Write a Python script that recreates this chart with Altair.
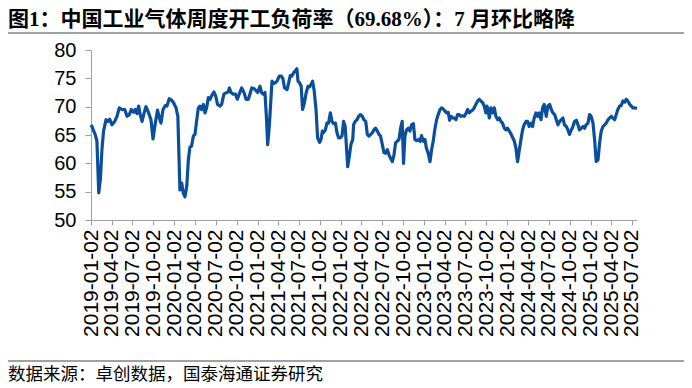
import altair as alt
import pandas as pd

title_text = "图1：中国工业气体周度开工负荷率（69.68%）：7 月环比略降"
source_text = "数据来源：卓创数据，国泰海通证券研究"

start_date = "2019-01-02"
# days after start_date
day_offsets = [
    1, 7, 19, 26, 34, 41, 48, 55, 66, 74, 82, 92, 104, 114, 124, 136, 148, 158, 168, 177,
    187, 194, 202, 209, 216, 224, 231, 241, 253, 263, 272, 282, 292, 300, 307, 316, 326, 333, 343, 352,
    362, 373, 381,
    390, 398, 405, 412, 420, 427, 434, 441, 449, 456, 463, 471, 478, 485, 493, 500, 507, 515, 522, 529,
    539, 547, 555, 566, 573, 583, 595, 602, 607, 614, 624, 634, 642, 650, 661, 671, 680, 690, 697, 705,
    715, 724, 731, 741, 748, 756, 763, 770, 775, 782,
    794, 801, 808, 816, 826, 835, 842, 849, 860, 867, 874, 881, 889, 896, 903, 908, 915, 922, 928, 936,
    944, 952, 959, 965, 972, 979, 987, 994, 1003, 1009, 1015, 1020, 1028, 1035, 1042, 1050, 1057, 1064,
    1072, 1079, 1086, 1093, 1101, 1108, 1115, 1126, 1133, 1140, 1148, 1152, 1159, 1167, 1174, 1181,
    1190, 1197, 1205, 1212, 1219, 1227, 1234, 1241, 1248, 1256, 1263, 1270, 1278, 1285, 1292, 1300,
    1307, 1314, 1322, 1329, 1336, 1343, 1351, 1358, 1365, 1371, 1377, 1384, 1392, 1399, 1406, 1414,
    1421, 1428, 1436, 1443, 1450, 1457, 1465, 1471, 1479, 1487, 1494, 1501, 1509, 1516, 1523, 1531,
    1538, 1545, 1553, 1560, 1567, 1573, 1580, 1588,
    1593, 1601, 1608, 1615, 1623, 1630, 1637, 1645, 1652, 1659, 1667, 1674, 1681, 1688, 1696, 1703,
    1710, 1718, 1725, 1732, 1737, 1743, 1747, 1754, 1762, 1769, 1776, 1784, 1791, 1798, 1805, 1813,
    1820, 1827, 1835, 1842, 1849, 1857, 1864, 1871, 1879, 1886, 1893, 1900, 1908, 1915, 1922, 1930,
    1937, 1944, 1952, 1959, 1966, 1974, 1981, 1988,
    1997, 2004, 2012, 2019, 2026, 2034, 2041, 2048, 2056, 2063, 2070, 2077, 2085, 2092, 2099, 2107,
    2114, 2121, 2129, 2136, 2143, 2151, 2158, 2165, 2172, 2180, 2187, 2194, 2202, 2209, 2216, 2224,
    2231, 2238, 2246, 2253, 2260, 2268, 2275, 2282, 2289, 2297, 2304, 2311, 2319, 2326, 2333, 2341,
    2348, 2355, 2363, 2370, 2377, 2384, 2395,
]
rates = [
    66.8, 66.2, 65.0, 63.9, 54.8, 57.1, 62.4, 65.7, 67.7, 67.4, 67.8, 66.8, 67.4, 68.3, 69.8, 69.5, 69.5, 68.3, 68.6, 69.5,
    69.0, 69.5, 68.8, 70.1, 68.6, 67.4, 68.6, 70.0, 68.9, 67.7, 64.3, 67.1, 69.4, 68.0, 67.1, 69.5, 70.2, 70.1, 71.4, 71.2,
    70.7, 69.8, 68.3,
    55.3, 56.5, 54.7, 54.1, 55.9, 60.6, 62.9, 63.0, 64.8, 65.1, 67.4, 69.8, 70.1, 69.5, 70.4, 68.9, 69.8, 71.6, 71.3, 71.9,
    72.6, 71.9, 70.4, 70.1, 70.4, 72.2, 72.5, 72.6, 73.3, 72.5, 72.2, 72.2, 71.3, 72.2, 73.3, 72.5, 71.3, 71.3, 72.2, 73.3,
    73.2, 72.8, 72.5, 73.6, 72.5, 72.2, 72.5, 67.7, 63.3, 66.5,
    74.5, 74.1, 74.2, 74.5, 75.4, 75.4, 74.9, 73.3, 73.0, 74.2, 75.5, 75.4, 76.0, 76.3, 76.7, 74.5, 74.2, 73.6, 69.5, 70.7,
    72.5, 73.6, 73.5, 73.9, 74.5, 72.8, 69.5, 64.5, 63.7, 64.2, 65.7, 65.4, 65.9, 67.1, 67.1, 68.9, 67.4, 67.0,
    67.1, 65.4, 64.5, 64.5, 64.8, 67.4, 66.5, 59.4, 61.2, 63.3, 64.2, 66.8, 67.4, 67.7, 68.3, 68.6,
    68.3, 67.7, 67.4, 65.1, 64.8, 65.1, 65.4, 65.9, 66.2, 65.7, 65.1, 64.8, 63.3, 61.9, 61.8, 62.4,
    61.5, 60.9, 60.3, 61.5, 63.6, 63.9, 64.2, 66.2, 67.4, 60.0, 64.8, 65.9, 66.2, 65.7, 66.8, 67.0,
    64.2, 64.0, 64.2, 63.9, 64.9, 63.9, 64.2, 62.7, 61.8, 60.3, 62.4, 63.9, 66.2, 67.7, 68.6, 69.5,
    69.8, 69.6, 69.2, 68.9, 69.0, 67.6, 68.3, 68.0,
    68.0, 67.7, 68.6, 68.6, 68.3, 68.4, 68.3, 68.8, 69.5, 68.9, 69.2, 69.4, 69.8, 70.4, 71.0, 71.3,
    71.0, 70.7, 70.1, 68.9, 70.1, 69.2, 68.0, 69.8, 68.9, 69.8, 68.3, 67.7, 68.0, 67.4, 67.1, 66.2,
    65.9, 66.2, 65.7, 65.2, 64.6, 63.9, 62.7, 60.3, 62.4, 64.2, 65.9, 66.8, 67.4, 67.4, 66.5, 67.1,
    66.5, 68.0, 68.9, 68.3, 68.9, 67.7, 69.8, 70.4,
    68.3, 70.1, 70.4, 69.5, 68.9, 68.6, 67.7, 66.8, 67.4, 67.7, 68.0, 66.8, 66.5, 65.9, 65.1, 65.9,
    66.5, 67.4, 67.6, 66.8, 65.9, 66.2, 66.5, 66.2, 66.8, 67.1, 68.6, 68.3, 67.1, 64.2, 60.3, 60.6,
    63.6, 65.7, 66.5, 66.8, 67.1, 67.7, 68.0, 68.3, 68.0, 67.7, 68.6, 69.5, 70.1, 70.2, 71.0, 70.8,
    71.3, 71.0, 70.4, 70.1, 69.8, 69.8, 69.68,
]

tick_dates = [
    "2019-01-02", "2019-04-02", "2019-07-02", "2019-10-02",
    "2020-01-02", "2020-04-02", "2020-07-02", "2020-10-02",
    "2021-01-02", "2021-04-02", "2021-07-02", "2021-10-02",
    "2022-01-02", "2022-04-02", "2022-07-02", "2022-10-02",
    "2023-01-02", "2023-04-02", "2023-07-02", "2023-10-02",
    "2024-01-02", "2024-04-02", "2024-07-02", "2024-10-02",
    "2025-01-02", "2025-04-02", "2025-07-02",
]
x_domain = ["2019-01-02", "2025-07-24"]
y_ticks = [50, 55, 60, 65, 70, 75, 80]

dates = (pd.Timestamp(start_date) + pd.to_timedelta(day_offsets, unit="D")).strftime("%Y-%m-%d")
df = pd.DataFrame({"date": dates, "rate": rates})


def dt(s):
    y, m, d = (int(p) for p in s.split("-"))
    return alt.DateTime(year=y, month=m, date=d, utc=True)


LINE_COLOR = "#0b4f9c"
AXIS_GREY = "#a0a0a0"

line = alt.Chart(df).mark_line(color=LINE_COLOR, strokeWidth=3.2, strokeJoin="round").encode(
    x=alt.X(
        "date:T",
        scale=alt.Scale(type="utc", domain=[dt(s) for s in x_domain]),
        axis=alt.Axis(
            values=[dt(s) for s in tick_dates],
            labelExpr="utcFormat(datum.value, '%Y-%m-%d')",
            labelAngle=270,
            labelAlign="right",
            labelBaseline="middle",
            title=None,
            grid=False,
            tickSize=5,
            labelPadding=4,
            labelFontSize=21,
            labelOverlap=False,
        ),
    ),
    y=alt.Y(
        "rate:Q",
        scale=alt.Scale(domain=[50, 80], nice=False, zero=False),
        axis=alt.Axis(values=y_ticks, title=None, grid=False, tickSize=6, labelPadding=9, labelFontSize=20),
    ),
)

title_layer = alt.Chart(pd.DataFrame({"t": [title_text]})).mark_text(
    align="left", baseline="alphabetic", font="Liberation Serif, Noto Sans CJK SC",
    fontSize=21, fontWeight="bold", color="black",
).encode(x=alt.value(-83), y=alt.value(-24), text="t:N")

source_layer = alt.Chart(pd.DataFrame({"t": [source_text]})).mark_text(
    align="left", baseline="alphabetic", font="Liberation Serif, Noto Sans CJK SC",
    fontSize=17.5, color="black",
).encode(x=alt.value(-83), y=alt.value(330), text="t:N")

top_rule = alt.Chart(pd.DataFrame({"a": [0]})).mark_rule(color="#444444", strokeWidth=1.2).encode(
    x=alt.value(-86), x2=alt.value(596), y=alt.value(-17)
)
bottom_rule = alt.Chart(pd.DataFrame({"a": [0]})).mark_rule(color="#444444", strokeWidth=1.2).encode(
    x=alt.value(-86), x2=alt.value(596), y=alt.value(311)
)

chart = alt.layer(line, title_layer, source_layer, top_rule, bottom_rule).properties(
    width=546,
    height=170,
    autosize=alt.AutoSizeParams(type="none"),
    padding={"left": 83, "top": 42, "right": 47, "bottom": 164},
    background="white",
).configure_view(stroke=None).configure_axis(
    domainColor=AXIS_GREY,
    tickColor=AXIS_GREY,
    labelColor="black",
    labelFont="Liberation Sans",
)

chart.save("out.html", embed_options={"renderer": "svg", "actions": False})
